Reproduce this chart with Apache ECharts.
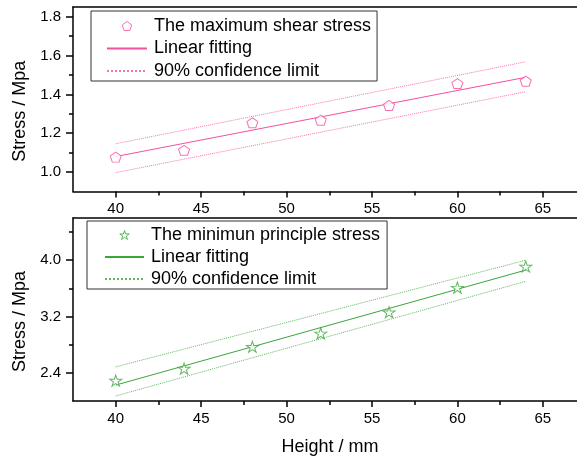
<!DOCTYPE html>
<html>
<head>
<meta charset="utf-8">
<script src="https://cdn.jsdelivr.net/npm/echarts@6/dist/echarts.min.js"></script>
<style>
html,body{margin:0;padding:0;background:#fff;}
#chart{width:577px;height:461px;}
</style>
</head>
<body>
<div id="chart"></div>
<script>
// ---- data ----
var heights = [40, 44, 48, 52, 56, 60, 64];
var shearStress = [1.077, 1.112, 1.254, 1.267, 1.343, 1.456, 1.468];
var principalStress = [2.29, 2.46, 2.77, 2.96, 3.26, 3.61, 3.91];

var fitHeights = [40, 64];
var shearFit = [1.08, 1.488];
var shearUpper = [1.146, 1.568];
var shearLower = [0.997, 1.414];
var principalFit = [2.226, 3.86];
var principalUpper = [2.485, 4.0];
var principalLower = [2.071, 3.70];

var xMajorTicks = [40, 45, 50, 55, 60, 65];
var xMinorTicks = [42.5, 47.5, 52.5, 57.5, 62.5];
var yTopMajorTicks = [1.0, 1.2, 1.4, 1.6, 1.8];
var yTopMinorTicks = [1.1, 1.3, 1.5, 1.7];
var yBotMajorTicks = [2.4, 3.2, 4.0];
var yBotMinorTicks = [2.8, 3.6, 4.4];

var topNames = ['The maximum shear stress', 'Linear fitting|1', '90% confidence limit|1'];
var botNames = ['The minimun principle stress', 'Linear fitting|2', '90% confidence limit|2'];

var PINK = '#f5509f';
var GREEN = '#3aa63a';
var FONT = '"Liberation Sans", Arial, sans-serif';

function zip(xs, ys) { return xs.map(function (x, i) { return [x, ys[i]]; }); }

var PENTAGON = 'path://M50,0 L97.6,34.5 L79.4,90.5 L20.6,90.5 L2.4,34.5 Z';
var STAR = 'path://M50,0 L61.2,34.5 L97.6,34.5 L68.2,55.9 L79.4,90.5 L50,69.1 L20.6,90.5 L31.8,55.9 L2.4,34.5 L38.8,34.5 Z';

function xAxes(gridIndex, withName) {
  var common = { type: 'value', gridIndex: gridIndex, min: 37.5, max: 67, splitLine: { show: false } };
  return [
    Object.assign({}, common, {
      position: 'bottom',
      axisLine: { show: true, onZero: false, lineStyle: { color: '#000', width: 1.5 } },
      axisTick: { show: true, customValues: xMajorTicks, length: 6, lineStyle: { color: '#000', width: 1.5 } },
      axisLabel: { show: true, customValues: xMajorTicks, margin: 10, color: '#000', fontSize: 15, fontFamily: FONT },
      name: withName ? 'Height / mm' : '',
      nameLocation: 'middle', nameGap: 37,
      nameTextStyle: { color: '#000', fontSize: 18, fontFamily: FONT, padding: [0, 0, 0, 10] }
    }),
    Object.assign({}, common, {
      position: 'bottom',
      axisLine: { show: false, onZero: false },
      axisTick: { show: true, customValues: xMinorTicks, length: 4, lineStyle: { color: '#000', width: 1.5 } },
      axisLabel: { show: false }
    }),
    Object.assign({}, common, {
      position: 'top',
      axisLine: { show: true, onZero: false, lineStyle: { color: '#000', width: 1.5 } },
      axisTick: { show: false },
      axisLabel: { show: false }
    })
  ];
}

function yAxes(gridIndex, min, max, majors, minors) {
  var common = { type: 'value', gridIndex: gridIndex, min: min, max: max, position: 'left', splitLine: { show: false } };
  return [
    Object.assign({}, common, {
      axisLine: { show: true, onZero: false, lineStyle: { color: '#000', width: 1.5 } },
      axisTick: { show: true, customValues: majors, length: 7, lineStyle: { color: '#000', width: 1.5 } },
      axisLabel: { show: true, customValues: majors, margin: 12, color: '#000', fontSize: 15, fontFamily: FONT,
        formatter: function (v) { return v.toFixed(1); } },
      name: 'Stress / Mpa',
      nameLocation: 'middle', nameGap: 44,
      nameTextStyle: { color: '#000', fontSize: 18, fontFamily: FONT, padding: [0, 24, 0, 0] }
    }),
    Object.assign({}, common, {
      axisLine: { show: false, onZero: false },
      axisTick: { show: true, customValues: minors, length: 4, lineStyle: { color: '#000', width: 1.5 } },
      axisLabel: { show: false }
    })
  ];
}

var legendFormatter = function (name) { return name.split('|')[0]; };
function legendData(names, color) {
  return [
    { name: names[0], itemStyle: { color: '#fff', borderColor: color, borderWidth: 1 } },
    { name: names[1], itemStyle: { opacity: 0 } },
    { name: names[2], itemStyle: { opacity: 0 } }
  ];
}

var option = {
  animation: false,
  backgroundColor: '#fff',
  grid: [
    { left: 73, right: 0, top: 7, height: 184.5, outerBoundsMode: 'none' },
    { left: 73, right: 0, top: 218, height: 183, outerBoundsMode: 'none' }
  ],
  xAxis: xAxes(0, false).concat(xAxes(1, true)),
  yAxis: yAxes(0, 0.9, 1.85, yTopMajorTicks, yTopMinorTicks).concat(yAxes(1, 2.0, 4.6, yBotMajorTicks, yBotMinorTicks)),
  legend: [
    {
      data: legendData(topNames, PINK), orient: 'vertical', left: 91, top: 11,
      padding: [5, 6, 0, 15], itemGap: 2.5, itemWidth: 40, itemHeight: 9,
      borderColor: '#333', borderWidth: 1,
      textStyle: { color: '#000', fontSize: 18, fontFamily: FONT, lineHeight: 20, padding: [0, 0, 0, 2] },
      formatter: legendFormatter, selectedMode: false
    },
    {
      data: legendData(botNames, GREEN), orient: 'vertical', left: 87, top: 221,
      padding: [4, 7, 0, 17], itemGap: 2, itemWidth: 39, itemHeight: 9,
      borderColor: '#333', borderWidth: 1,
      textStyle: { color: '#000', fontSize: 18, fontFamily: FONT, lineHeight: 20, padding: [0, 0, 0, 2] },
      formatter: legendFormatter, selectedMode: false
    }
  ],
  series: [
    { type: 'scatter', name: topNames[0], xAxisIndex: 0, yAxisIndex: 0, data: zip(heights, shearStress),
      symbol: PENTAGON, symbolSize: [11, 10], itemStyle: { color: '#fff', borderColor: PINK, borderWidth: 1 }, z: 5 },
    { type: 'line', name: topNames[1], xAxisIndex: 0, yAxisIndex: 0, data: zip(fitHeights, shearFit),
      symbol: 'none', lineStyle: { color: PINK, width: 1 }, itemStyle: { color: PINK } },
    { type: 'line', name: topNames[2], xAxisIndex: 0, yAxisIndex: 0, data: zip(fitHeights, shearUpper),
      symbol: 'none', lineStyle: { color: PINK, width: 1, type: 'dotted', opacity: 0.8 }, itemStyle: { color: PINK } },
    { type: 'line', name: topNames[2], xAxisIndex: 0, yAxisIndex: 0, data: zip(fitHeights, shearLower),
      symbol: 'none', lineStyle: { color: PINK, width: 1, type: 'dotted', opacity: 0.8 }, itemStyle: { color: PINK } },

    { type: 'scatter', name: botNames[0], xAxisIndex: 3, yAxisIndex: 2, data: zip(heights, principalStress),
      symbol: STAR, symbolSize: [12, 11], itemStyle: { color: '#fff', borderColor: GREEN, borderWidth: 1 }, z: 5 },
    { type: 'line', name: botNames[1], xAxisIndex: 3, yAxisIndex: 2, data: zip(fitHeights, principalFit),
      symbol: 'none', lineStyle: { color: GREEN, width: 1 }, itemStyle: { color: GREEN } },
    { type: 'line', name: botNames[2], xAxisIndex: 3, yAxisIndex: 2, data: zip(fitHeights, principalUpper),
      symbol: 'none', lineStyle: { color: GREEN, width: 1, type: 'dotted', opacity: 0.8 }, itemStyle: { color: GREEN } },
    { type: 'line', name: botNames[2], xAxisIndex: 3, yAxisIndex: 2, data: zip(fitHeights, principalLower),
      symbol: 'none', lineStyle: { color: GREEN, width: 1, type: 'dotted', opacity: 0.8 }, itemStyle: { color: GREEN } }
  ]
};

var chart = echarts.init(document.getElementById('chart'), null, { renderer: 'canvas' });
chart.setOption(option);
</script>
</body>
</html>
